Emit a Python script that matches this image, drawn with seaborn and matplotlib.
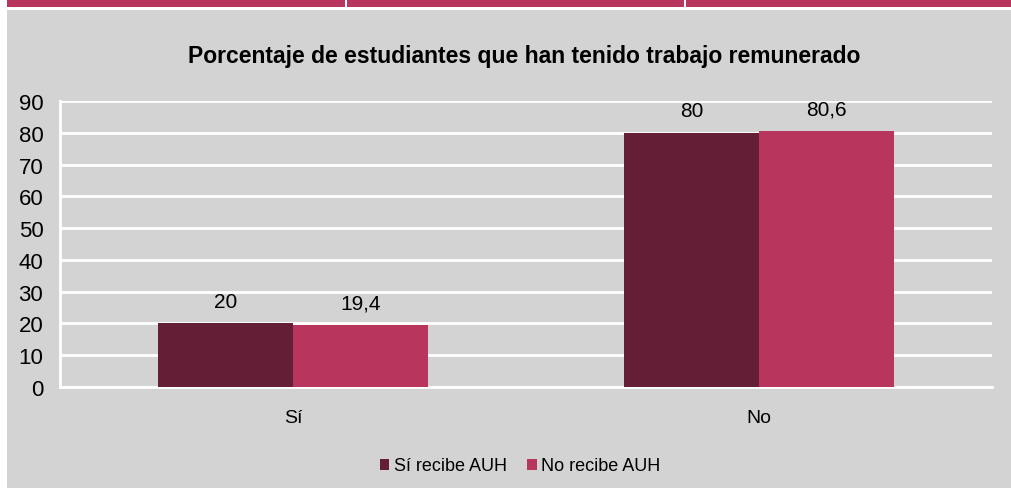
import pandas as pd
import matplotlib.pyplot as plt
import seaborn as sns
from matplotlib.patches import Rectangle

# data
categorias = ["Sí", "No"]
si_recibe_auh = [20, 80]
no_recibe_auh = [19.4, 80.6]
grupos = ["Sí recibe AUH", "No recibe AUH"]
y_ticks = [0, 10, 20, 30, 40, 50, 60, 70, 80, 90]

W, H = 1011, 489
FONT = ["Liberation Sans", "DejaVu Sans"]
DARK = "#641E35"
PINK = "#B8355E"
GRAY = "#D3D3D3"

data = pd.DataFrame({
    "categoria": categorias * 2,
    "grupo": [grupos[0]] * len(categorias) + [grupos[1]] * len(categorias),
    "valor": si_recibe_auh + no_recibe_auh,
})

sns.set_style("white")
plt.rcParams["font.family"] = FONT
plt.rcParams["text.color"] = "black"
plt.rcParams["xtick.color"] = "black"
plt.rcParams["ytick.color"] = "black"

fig = plt.figure(figsize=(W / 100, H / 100), dpi=100, facecolor="white")

# page decoration: gray panel, magenta strip on top
bg = fig.add_axes([0, 0, 1, 1], zorder=-1)
bg.set_xlim(0, W)
bg.set_ylim(H, 0)
bg.axis("off")
bg.add_patch(Rectangle((7, 11), W - 7, H - 11, facecolor=GRAY, edgecolor="none"))
bg.add_patch(Rectangle((7, 0), W - 7, 8, facecolor=PINK, edgecolor="none"))
for xs in (345, 684):
    bg.add_patch(Rectangle((xs, 0), 2, 11, facecolor="white", edgecolor="none"))

ax = fig.add_axes([60 / W, 1 - 388 / H, (992 - 60) / W, (388 - 102) / H])
ax.set_facecolor(GRAY)

sns.barplot(data=data, x="categoria", y="valor", hue="grupo", order=categorias,
            hue_order=grupos, palette=[DARK, PINK], width=0.58, saturation=1,
            linewidth=0, ax=ax, zorder=3)

for cont in ax.containers:
    ax.bar_label(cont, labels=[f"{v:g}".replace(".", ",") for v in cont.datavalues],
                 padding=9, fontsize=15, color="black", family=FONT)

ax.set_ylim(0, 90)
ax.set_yticks(y_ticks)
ax.set_xlim(-0.5, 1.5)
ax.grid(axis="y", color="white", linewidth=2)
ax.set_axisbelow(True)
for s in ("top", "right"):
    ax.spines[s].set_visible(False)
ax.spines["left"].set_color("white")
ax.spines["left"].set_linewidth(2)
ax.spines["bottom"].set_color("white")
ax.spines["bottom"].set_linewidth(2)
ax.tick_params(axis="y", length=0, pad=12, labelsize=16)
ax.tick_params(axis="x", length=0, pad=16, labelsize=14)
ax.set_xlabel("")
ax.set_ylabel("")

fig.text(524 / W, 1 - 56 / H, "Porcentaje de estudiantes que han tenido trabajo remunerado",
         ha="center", va="center", fontsize=16.5, fontweight="bold", family=FONT)

ax.legend(loc="center", bbox_to_anchor=(520 / W, 1 - 467 / H), bbox_transform=fig.transFigure,
          ncol=2, frameon=False, fontsize=13, handlelength=0.55, handleheight=0.55,
          handletextpad=0.25, columnspacing=1.1)

fig.savefig("out.png", dpi=100, facecolor="white")
